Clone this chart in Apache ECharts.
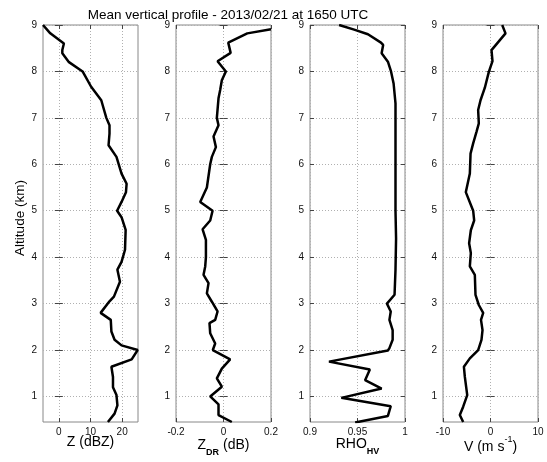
<!DOCTYPE html>
<html>
<head>
<meta charset="utf-8">
<script src="https://cdn.jsdelivr.net/npm/echarts@6/dist/echarts.min.js"></script>
<style>
  html, body { margin: 0; padding: 0; background: #fff; }
  #chart { width: 547px; height: 462px; }
</style>
</head>
<body>
<div id="chart"></div>
<script>
// Mean vertical profiles, one panel per variable (altitude in km)
const zAlt = [9.0, 8.82, 8.6, 8.46, 8.39, 8.2, 8.0, 7.67, 7.38, 7.0, 6.84, 6.66, 6.41, 6.16, 5.8, 5.58, 5.4, 5.19, 5.0, 4.86, 4.59, 4.16, 3.9, 3.73, 3.47, 3.15, 3.05, 2.8, 2.65, 2.4, 2.22, 2.1, 2.0, 1.8, 1.64, 1.42, 1.2, 1.03, 0.81, 0.63, 0.45];
const zVal = [-5.0, -2.7, 1.6, 1.1, 1.1, 3.2, 7.5, 10.2, 13.4, 15.0, 16.0, 16.0, 15.7, 18.2, 19.8, 21.4, 21.2, 19.8, 18.4, 19.8, 21.1, 20.9, 19.8, 18.5, 19.3, 17.4, 16.0, 13.2, 16.4, 16.6, 17.6, 19.8, 24.9, 23.0, 16.6, 17.1, 17.1, 18.2, 18.5, 17.6, 15.5];

const zdrAlt = [8.91, 8.82, 8.62, 8.4, 8.22, 8.0, 7.81, 7.6, 7.42, 7.0, 6.84, 6.6, 6.37, 6.16, 6.0, 5.5, 5.19, 5.0, 4.79, 4.6, 4.37, 4.0, 3.8, 3.62, 3.44, 3.22, 3.04, 2.83, 2.65, 2.58, 2.36, 2.14, 2.0, 1.8, 1.6, 1.39, 1.21, 1.0, 0.83, 0.6, 0.45];
const zdrVal = [0.2, 0.1, 0.02, 0.03, -0.025, 0.01, -0.007, -0.014, -0.021, -0.028, -0.021, -0.042, -0.032, -0.049, -0.056, -0.07, -0.098, -0.046, -0.056, -0.088, -0.074, -0.074, -0.077, -0.084, -0.063, -0.07, -0.049, -0.025, -0.035, -0.059, -0.056, -0.035, -0.045, 0.028, -0.007, -0.028, -0.007, -0.056, -0.021, -0.021, 0.035];

const rhoAlt = [9.0, 8.9, 8.8, 8.62, 8.57, 8.39, 8.21, 8.0, 7.74, 7.31, 6.0, 5.0, 4.4, 3.73, 3.19, 3.0, 2.83, 2.65, 2.43, 2.22, 2.04, 1.99, 1.75, 1.58, 1.35, 1.17, 0.97, 0.79, 0.58, 0.44];
const rhoVal = [0.9306, 0.9465, 0.961, 0.9747, 0.977, 0.9754, 0.982, 0.9853, 0.988, 0.990, 0.990, 0.990, 0.9906, 0.990, 0.989, 0.981, 0.985, 0.9836, 0.987, 0.987, 0.9836, 0.982, 0.92, 0.963, 0.958, 0.9754, 0.933, 0.985, 0.982, 0.9475];

const vAlt = [9.0, 8.82, 8.46, 8.22, 7.99, 7.65, 7.38, 7.17, 6.88, 6.7, 6.45, 6.23, 5.8, 5.4, 5.0, 4.79, 4.58, 4.3, 4.09, 3.8, 3.62, 3.19, 2.97, 2.8, 2.65, 2.43, 2.22, 2.0, 1.82, 1.64, 1.42, 1.03, 0.78, 0.6, 0.45];
const vVal = [2.46, 3.16, 0.21, 0.42, -0.35, -1.19, -2.1, -2.6, -2.46, -2.95, -3.65, -4.2, -4.35, -5.2, -3.65, -3.44, -4.14, -4.5, -4.14, -4.35, -3.3, -3.16, -2.46, -1.54, -2.0, -1.68, -1.9, -2.6, -4.35, -5.6, -5.4, -4.9, -5.75, -6.46, -5.75];

const altTicks = [1, 2, 3, 4, 5, 6, 7, 8, 9];

// per-panel x-axis setup
const panels = [
  { left: 43, min: -5, max: 25, ticks: [0, 10, 20], name: '{m|Z (dBZ)}', gap: 8, alt: zAlt, val: zVal },
  { left: 176, min: -0.2, max: 0.2, ticks: [-0.2, 0, 0.2], name: '{m|Z}{s|DR}{m| (dB)}', gap: 11, alt: zdrAlt, val: zdrVal },
  { left: 310, min: 0.9, max: 1, ticks: [0.9, 0.95, 1], name: '{m|RHO}{s|HV}', gap: 10, alt: rhoAlt, val: rhoVal },
  { left: 443, min: -10, max: 10, ticks: [-10, 0, 10], name: '{m|V (m s}{p|-1}{m|)}', gap: 13, alt: vAlt, val: vVal },
];

const FONT = 'Liberation Sans, Arial, sans-serif';
const gridLine = { show: true, lineStyle: { color: '#b0b0b0', type: [1, 2], width: 1 } };
const tick = (vals) => ({ show: true, inside: true, length: 4, customValues: vals, lineStyle: { color: '#444' } });
const nameRich = {
  m: { fontSize: 14, fontFamily: FONT, color: '#000', lineHeight: 24 },
  s: { fontSize: 9, fontFamily: FONT, color: '#000', fontWeight: 'bold', lineHeight: 10, verticalAlign: 'bottom' },
  p: { fontSize: 9, fontFamily: FONT, color: '#000', lineHeight: 10, verticalAlign: 'top' },
};

const grid = [], xAxis = [], yAxis = [], series = [];
panels.forEach((p, i) => {
  grid.push({
    left: p.left, width: 95, top: 25, height: 397, outerBoundsMode: 'none',
    show: true, borderColor: '#888', borderWidth: 1,
  });
  // bottom axis with labels + name
  xAxis.push({
    type: 'value', gridIndex: i, min: p.min, max: p.max, position: 'bottom',
    axisLine: { show: false },
    axisTick: tick(p.ticks),
    axisLabel: { customValues: p.ticks, fontSize: 10, fontFamily: FONT, color: '#111', margin: 5 },
    splitLine: gridLine,
    name: p.name, nameLocation: 'middle', nameGap: p.gap, nameMoveOverlap: false,
    nameTextStyle: { fontSize: 14, fontFamily: FONT, color: '#000', rich: nameRich },
  });
  // top mirror axis, ticks only
  xAxis.push({
    type: 'value', gridIndex: i, min: p.min, max: p.max, position: 'top',
    axisLine: { show: false }, axisTick: tick(p.ticks),
    axisLabel: { show: false }, splitLine: { show: false },
  });
  yAxis.push({
    type: 'value', gridIndex: i, min: 0.45, max: 9, position: 'left',
    axisLine: { show: false },
    axisTick: tick(altTicks),
    axisLabel: { customValues: altTicks, fontSize: 10, fontFamily: FONT, color: '#111', margin: 6 },
    splitLine: gridLine,
  });
  yAxis.push({
    type: 'value', gridIndex: i, min: 0.45, max: 9, position: 'right',
    axisLine: { show: false }, axisTick: tick(altTicks),
    axisLabel: { show: false }, splitLine: { show: false },
  });
  series.push({
    type: 'line', xAxisIndex: i * 2, yAxisIndex: i * 2,
    data: p.val.map((v, k) => [v, p.alt[k]]),
    showSymbol: false, symbol: 'none', clip: true,
    lineStyle: { color: '#000', width: 2.5 },
    animation: false,
  });
});

const chart = echarts.init(document.getElementById('chart'));
chart.setOption({
  backgroundColor: '#fff',
  animation: false,
  title: {
    text: 'Mean vertical profile - 2013/02/21 at 1650 UTC',
    left: 223, top: 3, textAlign: 'center',
    textStyle: { fontSize: 13.5, fontWeight: 'normal', fontFamily: FONT, color: '#000' },
  },
  graphic: [{
    type: 'text', x: 20, y: 218, rotation: Math.PI / 2,
    style: { text: 'Altitude (km)', fontSize: 13.5, fontFamily: FONT, fill: '#000', align: 'center', verticalAlign: 'middle' },
  }],
  grid, xAxis, yAxis, series,
});
</script>
</body>
</html>
